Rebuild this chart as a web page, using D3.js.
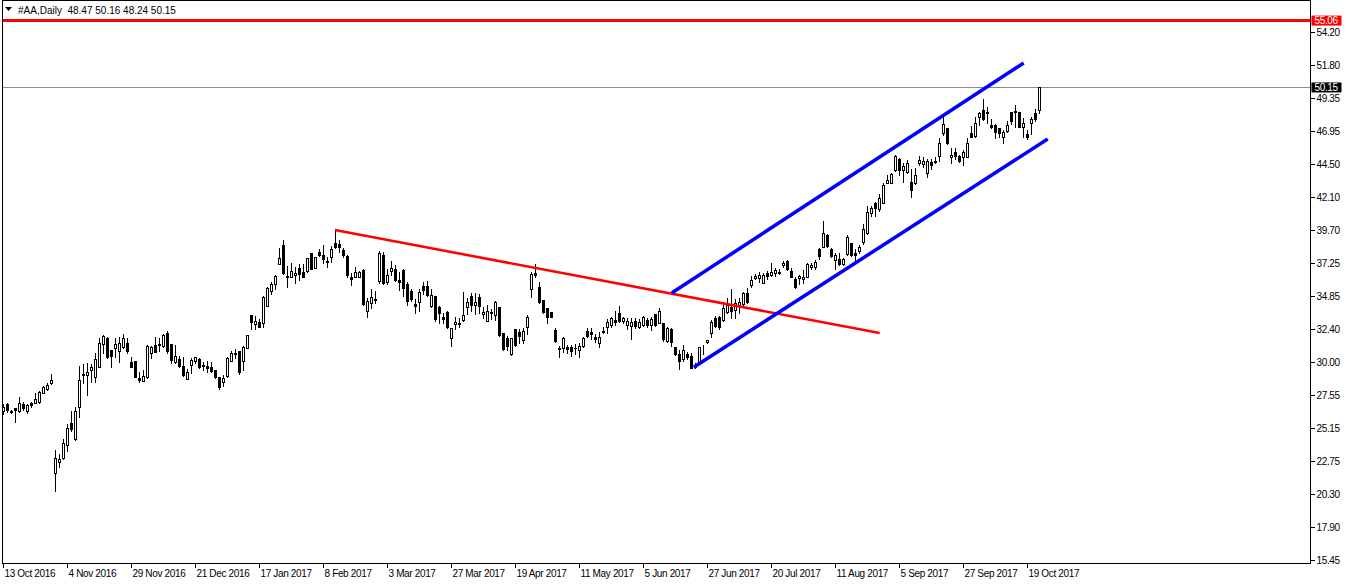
<!DOCTYPE html>
<html>
<head>
<meta charset="utf-8">
<script src="https://cdn.jsdelivr.net/npm/d3@7"></script>
<style>
    body { margin: 0; background: #fff; }
    svg text { font-family: "Liberation Sans", Arial, sans-serif; font-size: 10px; fill: #000; }
    svg .tick-label { letter-spacing: -0.35px; }
</style>
</head>
<body>
<svg id="chart"></svg>
<script>
    // #AA daily, 13 Oct 2016 .. 24 Oct 2017, one entry per bar
    const opens = [
        26.39,26.88,26.41,26.59,26.41,26.88,26.41,26.96,27.00,27.05,
        27.74,28.01,28.43,21.82,22.63,22.92,23.90,25.49,24.34,26.71,
        29.11,29.06,29.40,28.91,29.64,31.31,31.73,30.87,30.99,30.82,
        31.12,31.36,29.97,30.07,28.80,28.62,28.91,30.63,31.24,31.29,
        31.17,32.10,31.31,30.01,30.19,29.70,28.74,29.77,30.07,30.19,
        29.77,29.70,29.65,29.40,28.87,28.55,28.96,30.09,30.58,30.82,
        30.07,31.04,33.44,32.76,32.95,32.88,34.12,35.23,35.72,37.19,
        38.58,36.30,36.25,36.36,36.87,36.62,36.69,37.97,36.87,38.09,
        37.85,37.41,37.68,38.75,38.65,38.21,37.77,36.21,36.25,36.25,
        36.75,33.76,34.35,34.62,35.96,37.85,35.89,36.69,36.80,36.01,
        36.75,35.72,35.23,34.25,34.42,35.57,35.57,34.10,34.84,34.05,
        33.27,33.68,31.73,32.78,32.88,33.08,34.01,34.84,34.18,34.74,
        33.52,33.02,33.57,33.44,34.05,32.14,31.73,30.56,32.39,32.22,
        31.61,32.54,35.33,36.50,35.48,34.54,33.93,33.68,32.34,31.02,
        31.00,31.07,31.07,31.04,30.87,31.17,32.29,32.22,31.80,31.36,
        32.29,32.54,32.71,33.08,33.61,33.02,32.71,32.63,33.02,32.58,
        32.71,33.08,32.71,33.52,32.88,32.83,31.56,32.39,31.07,30.58,
        30.19,30.58,30.43,29.65,30.01,31.07,31.46,32.14,33.20,33.32,
        33.08,33.68,34.01,33.81,34.18,34.25,35.08,35.64,36.14,36.14,
        35.81,36.50,36.38,36.50,36.62,37.11,37.43,36.69,36.06,36.14,
        36.11,36.21,36.99,36.94,38.26,38.46,39.32,38.26,37.48,37.53,
        37.19,37.92,38.75,37.97,38.16,38.82,39.44,40.91,41.64,41.20,
        41.69,43.16,43.11,44.09,44.87,44.09,43.96,43.23,43.16,44.62,
        44.53,43.89,44.70,44.77,45.11,46.78,47.14,45.02,45.43,45.11,
        45.06,45.06,46.83,46.58,48.00,48.49,48.34,47.39,47.39,47.15,
        46.49,46.97,48.37,48.42,48.37,47.27,46.73,47.52,48.25,48.47
    ];
    const highs = [
        26.91,26.96,26.49,26.61,27.40,27.08,26.91,27.05,27.69,27.88,
        28.23,28.47,29.11,23.53,23.24,24.34,25.44,26.39,26.71,29.70,
        29.84,29.89,29.84,30.63,31.73,32.00,31.80,30.87,31.73,31.85,
        32.05,31.73,30.38,30.07,29.28,29.40,31.24,31.17,31.80,31.73,
        32.05,32.29,31.31,31.24,30.43,30.34,29.46,30.26,30.38,30.26,
        30.01,30.09,30.01,29.40,28.91,29.04,30.34,30.82,30.92,30.82,
        31.17,31.97,33.44,33.37,33.13,34.84,35.48,35.84,36.38,38.34,
        38.95,37.04,37.28,36.94,37.19,37.19,37.60,37.97,37.68,38.26,
        38.58,37.68,38.51,39.68,38.95,38.34,37.85,36.55,36.94,36.69,
        36.80,34.67,35.33,35.23,38.16,38.09,36.80,37.43,37.11,36.62,
        36.80,35.89,35.33,34.59,35.33,35.89,35.96,35.33,34.84,34.10,
        33.57,33.76,32.47,33.27,33.20,35.15,34.67,35.03,35.03,34.98,
        34.05,34.18,33.86,34.49,34.05,32.14,31.90,31.73,32.39,32.39,
        32.47,33.44,36.62,37.19,35.89,34.54,33.93,33.68,32.47,31.17,
        31.85,31.24,31.24,31.31,31.36,31.80,32.47,32.47,32.05,32.22,
        32.54,33.13,33.32,33.76,34.10,33.32,33.20,33.20,33.20,33.13,
        33.37,33.20,33.32,33.52,33.93,32.83,32.54,32.47,31.12,30.87,
        31.24,30.75,30.63,29.90,31.12,31.24,31.61,33.08,33.37,33.37,
        34.18,34.67,35.33,34.59,34.67,35.15,35.40,36.30,36.45,36.62,
        36.50,36.69,37.28,36.87,36.80,37.43,37.48,36.87,36.25,36.38,
        36.75,37.28,37.28,37.48,38.34,40.37,39.39,38.34,37.97,37.97,
        37.60,39.32,38.75,38.26,38.58,40.12,41.44,41.44,41.76,42.33,
        43.11,43.72,43.89,45.19,44.95,44.58,44.82,44.14,44.21,45.11,
        45.06,44.87,44.87,45.02,46.41,48.00,47.14,45.68,45.68,45.19,
        45.56,46.41,47.32,47.96,48.37,49.28,48.69,47.81,47.46,47.15,
        47.02,47.71,48.37,48.86,48.37,47.88,47.02,48.00,48.55,50.16
    ];
    const lows = [
        26.17,26.34,26.22,25.56,26.34,26.47,26.27,26.71,26.96,27.00,
        27.69,27.93,28.37,20.54,22.26,22.87,23.48,24.94,24.26,25.93,
        28.43,27.57,28.54,28.54,29.60,30.68,30.26,29.60,30.34,30.01,
        30.99,30.68,29.60,28.87,28.55,28.62,28.84,30.26,30.70,30.82,
        31.12,30.68,29.94,29.94,29.65,28.99,28.74,29.16,29.94,29.53,
        29.40,29.28,29.28,28.80,27.99,28.23,28.91,30.09,30.26,29.11,
        29.40,31.04,32.41,32.41,32.54,32.58,34.10,34.98,35.37,37.16,
        36.45,35.48,36.25,35.77,36.01,36.21,36.62,36.80,36.87,37.77,
        37.24,36.94,37.35,38.34,38.09,37.72,36.25,35.64,36.21,36.21,
        34.18,33.27,33.93,34.30,35.77,35.72,35.72,36.38,35.96,35.28,
        34.84,34.18,34.49,33.61,33.76,34.98,34.84,34.05,33.02,32.88,
        32.88,32.47,31.17,32.39,32.54,33.02,33.52,33.76,33.52,33.61,
        33.20,33.02,33.13,33.08,31.90,30.87,30.87,30.51,31.17,31.41,
        31.41,32.05,34.79,36.25,34.35,33.61,32.83,33.27,31.48,30.34,
        30.75,30.63,30.43,30.58,30.38,31.12,31.80,31.66,31.48,31.07,
        32.14,32.14,32.58,32.71,32.95,32.88,32.39,31.66,32.47,32.47,
        32.63,32.58,32.34,32.63,32.83,31.56,31.48,31.17,30.51,29.46,
        30.09,30.19,29.53,29.55,29.94,30.58,31.41,31.80,32.54,32.39,
        33.02,33.61,33.20,33.20,33.61,34.18,34.35,35.52,36.06,35.89,
        35.77,36.06,36.30,36.30,36.45,36.99,36.75,36.21,35.40,35.72,
        35.82,36.21,36.80,36.80,37.53,38.41,38.41,37.72,36.80,37.11,
        37.11,37.85,37.77,37.36,38.02,38.66,39.39,40.71,40.71,41.10,
        41.64,43.11,43.11,44.04,43.72,43.23,43.89,42.13,43.06,44.46,
        44.29,43.60,44.14,44.58,44.77,46.66,45.99,44.58,44.87,44.70,
        44.46,45.02,46.49,46.49,47.39,47.76,47.52,47.15,46.41,46.49,
        46.09,46.90,47.46,47.27,47.27,46.49,46.34,46.73,47.71,48.24
    ];
    const closes = [
        26.69,26.47,26.32,26.44,26.96,26.63,26.83,26.81,27.25,27.81,
        28.13,28.30,28.67,22.92,22.85,24.02,25.12,25.05,26.39,28.67,
        29.06,29.26,29.64,30.19,31.36,31.90,30.34,30.45,31.29,31.41,
        31.73,30.82,29.65,28.91,28.67,28.96,31.17,31.07,30.75,31.22,
        31.97,30.82,30.14,30.43,29.70,29.04,29.28,30.14,30.34,29.60,
        29.70,29.53,29.35,28.87,28.13,28.80,30.26,30.68,30.68,29.28,
        31.07,31.97,32.95,33.02,32.58,34.79,35.45,35.70,36.30,37.63,
        36.50,36.21,36.67,36.55,36.45,36.21,37.60,36.80,37.68,37.85,
        37.53,37.33,38.26,38.41,38.46,37.85,36.38,36.11,36.62,36.62,
        34.25,34.49,34.74,34.57,37.97,35.77,36.38,36.87,36.01,35.89,
        35.40,34.49,34.59,34.10,35.15,35.28,34.91,34.91,33.13,33.61,
        33.13,32.54,32.47,32.95,32.78,33.44,34.42,34.18,34.42,34.10,
        33.68,33.76,33.68,34.42,31.97,30.92,31.17,31.73,31.24,31.90,
        32.29,33.27,36.45,36.38,34.42,33.68,33.27,33.27,31.56,30.97,
        31.73,30.92,30.82,31.00,31.17,31.73,31.90,32.05,31.66,31.85,
        32.22,32.95,33.20,32.95,33.02,33.20,33.02,32.95,32.63,32.95,
        33.32,32.71,33.13,32.71,33.76,31.66,32.47,31.48,30.58,30.09,
        30.87,30.34,29.53,29.80,31.07,31.12,31.61,32.95,32.63,32.54,
        33.93,34.18,33.76,34.30,34.42,35.03,34.42,36.01,36.30,36.40,
        36.38,36.30,36.60,36.75,36.55,37.28,36.80,36.25,35.52,36.30,
        36.26,37.19,37.11,37.35,37.77,39.44,38.51,37.77,37.85,37.19,
        37.53,39.19,37.85,37.85,38.46,39.74,41.03,41.28,41.28,42.01,
        42.99,43.35,43.79,45.12,44.09,44.38,44.58,42.62,43.72,44.82,
        44.77,44.77,44.46,44.70,46.09,47.46,46.09,45.19,45.11,44.77,
        45.43,46.05,46.49,47.52,48.25,47.81,48.25,47.27,46.90,46.83,
        46.90,47.39,47.71,48.33,47.27,47.56,46.53,47.81,47.81,50.15
    ];

    // date labels, one every 16 bars starting at bar 0
    const dateLabels = ['13 Oct 2016','4 Nov 2016','29 Nov 2016','21 Dec 2016','17 Jan 2017',
        '8 Feb 2017','3 Mar 2017','27 Mar 2017','19 Apr 2017','11 May 2017','5 Jun 2017',
        '27 Jun 2017','20 Jul 2017','11 Aug 2017','5 Sep 2017','27 Sep 2017','19 Oct 2017'];
    const labelStep = 16;

    const priceTicks = [15.45,17.90,20.30,22.75,25.15,27.55,30.00,32.40,34.85,
        37.25,39.70,42.10,44.50,46.95,49.35,51.80,54.20];

    const title = '#AA,Daily  48.47 50.16 48.24 50.15';
    const levelPrice = 55.06;   // red horizontal level
    const bidPrice = 50.15;     // last price line

    // trend lines as [bar, price] pairs
    const redTrend = [[83, 39.68], [219.2, 32.12]];
    const channelTop = [[167.2, 35.06], [255.2, 51.95]];
    const channelBottom = [[172.7, 29.61], [261.2, 46.36]];

    const W = 1350, H = 584;
    const frameL = 2.5, frameR = 1310.5, frameT = 0.5, frameB = 563.5;

    let svg = d3.select('#chart').attr('width', W).attr('height', H);

    let xScale = d3.scaleLinear().domain([0, 256]).range([2.9, 1026.9]);
    let yScale = d3.scaleLinear().domain([15.45, 54.20]).range([560, 32.3]);

    svg.append('rect').attr('width', W).attr('height', H).attr('fill', '#fff');

    svg.append('clipPath').attr('id', 'plot')
        .append('rect')
        .attr('x', frameL).attr('y', frameT)
        .attr('width', frameR - frameL).attr('height', frameB - frameT);

    let plot = svg.append('g').attr('clip-path', 'url(#plot)');

    // red level line
    plot.append('line')
        .attr('x1', frameL).attr('x2', frameR)
        .attr('y1', yScale(levelPrice)).attr('y2', yScale(levelPrice))
        .attr('stroke', '#ff0000').attr('stroke-width', 3);

    // bid line
    let bidY = Math.round(yScale(bidPrice)) + 0.5;
    plot.append('line')
        .attr('x1', frameL).attr('x2', frameR)
        .attr('y1', bidY).attr('y2', bidY)
        .attr('stroke', '#8c8c8c').attr('stroke-width', 1);

    // candles
    let bars = d3.range(closes.length).map(i => ({
        i: i, o: opens[i], h: highs[i], l: lows[i], c: closes[i]
    }));
    let cx = d => Math.round(xScale(d.i));

    let candles = plot.append('g').attr('shape-rendering', 'crispEdges');

    candles.selectAll('line.wick')
        .data(bars)
        .enter()
        .append('line')
        .attr('class', 'wick')
        .attr('x1', d => cx(d) + 0.5).attr('x2', d => cx(d) + 0.5)
        .attr('y1', d => Math.round(yScale(d.h)))
        .attr('y2', d => Math.round(yScale(d.l)) + 1)
        .attr('stroke', '#000').attr('stroke-width', 1);

    candles.selectAll('rect.body')
        .data(bars)
        .enter()
        .append('rect')
        .attr('class', 'body')
        .attr('x', d => d.c >= d.o ? cx(d) - 0.5 : cx(d) - 1)
        .attr('y', function(d) {
            let yt = Math.round(yScale(Math.max(d.o, d.c)));
            return d.c >= d.o ? yt + 0.5 : yt;
        })
        .attr('width', d => d.c >= d.o ? 2 : 3)
        .attr('height', function(d) {
            let yt = Math.round(yScale(Math.max(d.o, d.c)));
            let yb = Math.round(yScale(Math.min(d.o, d.c)));
            return d.c >= d.o ? Math.max(yb - yt, 0) : Math.max(yb - yt, 0) + 1;
        })
        .attr('fill', d => d.c >= d.o ? '#fff' : '#000')
        .attr('stroke', d => d.c >= d.o ? '#000' : 'none')
        .attr('stroke-width', 1);

    // trend lines
    let line = d3.line().x(p => xScale(p[0])).y(p => yScale(p[1]));
    plot.append('path').datum(redTrend)
        .attr('d', line).attr('fill', 'none')
        .attr('stroke', '#ff0000').attr('stroke-width', 2.5);
    [channelTop, channelBottom].forEach(function(seg) {
        plot.append('path').datum(seg)
            .attr('d', line).attr('fill', 'none')
            .attr('stroke', '#0000ff').attr('stroke-width', 3.5);
    });

    // frame
    svg.append('rect')
        .attr('x', frameL).attr('y', frameT)
        .attr('width', frameR - frameL).attr('height', frameB - frameT)
        .attr('fill', 'none').attr('stroke', '#000').attr('stroke-width', 1);

    // right price axis
    let yAxis = svg.append('g').attr('shape-rendering', 'crispEdges');
    priceTicks.forEach(function(v) {
        let y = Math.round(yScale(v)) + 0.5;
        yAxis.append('line')
            .attr('x1', frameR).attr('x2', frameR + 4)
            .attr('y1', y).attr('y2', y)
            .attr('stroke', '#000');
        yAxis.append('text')
            .attr('class', 'tick-label')
            .attr('x', frameR + 6).attr('y', y + 3.5)
            .text(v.toFixed(2));
    });

    // price label boxes
    function priceBox(v, color) {
        let y = yScale(v);
        svg.append('rect')
            .attr('x', frameR + 1).attr('y', y - 5)
            .attr('width', 30).attr('height', 10)
            .attr('fill', color);
        svg.append('text')
            .attr('class', 'tick-label')
            .attr('x', frameR + 4).attr('y', y + 3.5)
            .style('fill', '#fff')
            .text(v.toFixed(2));
    }
    priceBox(levelPrice, '#ff0000');
    priceBox(bidPrice, '#000');

    // bottom date axis
    let xAxis = svg.append('g').attr('shape-rendering', 'crispEdges');
    dateLabels.forEach(function(lbl, k) {
        let x = Math.round(xScale(k * labelStep)) + 0.5;
        xAxis.append('line')
            .attr('x1', x).attr('x2', x)
            .attr('y1', frameB).attr('y2', frameB + 4)
            .attr('stroke', '#000');
        xAxis.append('text')
            .attr('class', 'tick-label')
            .attr('x', x + 1).attr('y', 577)
            .text(lbl);
    });

    // header
    svg.append('path')
        .attr('d', 'M5,7 L12,7 L8.5,11 Z')
        .attr('fill', '#000');
    svg.append('text')
        .attr('x', 18).attr('y', 14)
        .style('white-space', 'pre')
        .attr('xml:space', 'preserve')
        .text(title);
</script>
</body>
</html>
